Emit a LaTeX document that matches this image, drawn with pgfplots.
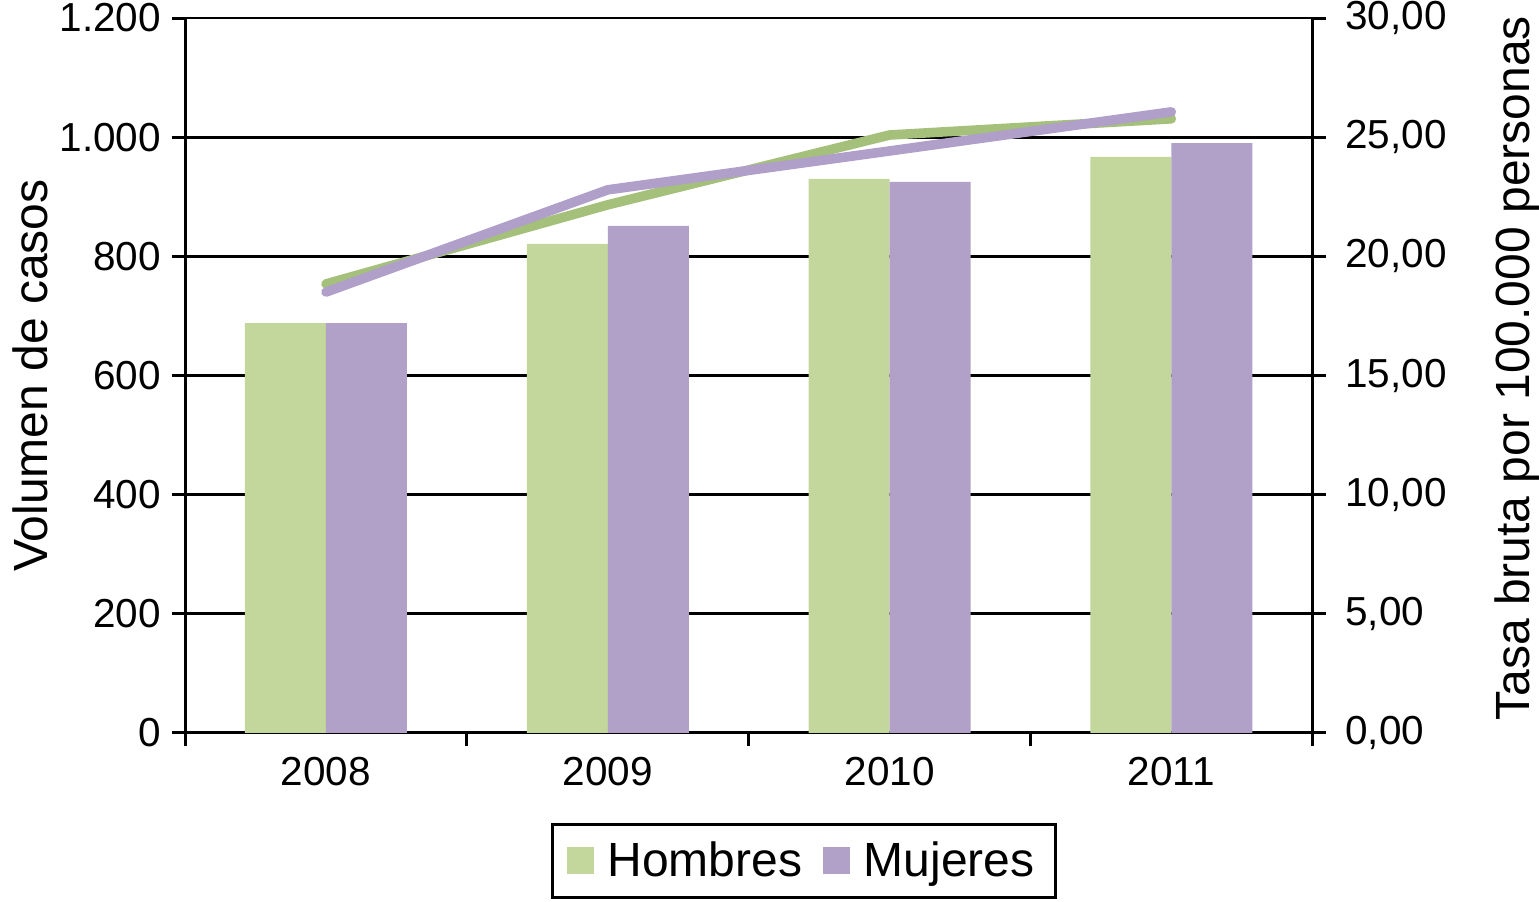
\documentclass[border=0pt]{standalone}
\usepackage{pgfplots}
\pgfplotsset{compat=1.18}
\usepackage{fontspec}
\setmainfont{Liberation Sans}
\definecolor{hgreen}{HTML}{C3D69B}
\definecolor{mpurple}{HTML}{B1A0C7}
\definecolor{hline}{HTML}{A4C07A}
\definecolor{mline}{HTML}{B09FC8}

\begin{document}
\begin{tikzpicture}
\useasboundingbox (-61.7pt,-56.3pt) rectangle (451.3pt,244.3pt);
\begin{axis}[
  at={(0,0)}, anchor=south west,
  scale only axis, width=375.7pt, height=238.3pt,
  xmin=-0.5, xmax=3.5, ymin=0, ymax=1200,
  axis x line*=bottom, axis y line*=left,
  axis line style={line width=1pt, -},
  xtick={-0.5,0.5,1.5,2.5,3.5},
  x tick label as interval,
  xticklabels={2008,2009,2010,2011},
  ytick={0,200,...,1200},
  ymajorgrids, grid style={black, line width=0.9pt},
  tick align=outside, major tick length=4.5pt,
  tick style={black, line width=1pt},
  tick label style={font=\fontsize{13.5}{16}\selectfont},
  /pgf/number format/.cd, 1000 sep={.}, assume math mode=true, /pgfplots/.cd,
  ylabel={Volumen de casos},
  ylabel style={at={(axis description cs:-0.1376,0.5)}, anchor=center, font=\fontsize{16}{19}\selectfont},
  ybar=0pt, bar width=27pt,
  legend columns=2,
  legend style={at={(0.549,-0.179)}, anchor=center, draw=black, line width=1pt,
    font=\fontsize{16}{19}\selectfont, inner xsep=5pt, inner ysep=3.5pt,
    /tikz/every odd column/.append style={column sep=2.5pt},
    /tikz/every even column/.append style={column sep=5pt}},
  legend image code/.code={\fill[#1] (0pt,-4.5pt) rectangle (9pt,4.5pt);},
]
\addplot[fill=hgreen, draw=none] coordinates {(0,688) (1,821) (2,930) (3,967)};
\addlegendentry{Hombres}
\addplot[fill=mpurple, draw=none] coordinates {(0,688) (1,851) (2,925) (3,990)};
\addlegendentry{Mujeres}
\end{axis}
\begin{axis}[
  at={(0,0)}, anchor=south west,
  scale only axis, width=375.7pt, height=238.3pt,
  xmin=-0.5, xmax=3.5, ymin=0, ymax=30,
  axis x line=none, axis y line*=right,
  axis line style={line width=1pt, -},
  ytick={0,5,...,30},
  tick align=outside, major tick length=4.5pt,
  tick style={black, line width=1pt},
  tick label style={font=\fontsize{13.5}{16}\selectfont},
  yticklabel style={xshift=3pt, /pgf/number format/.cd, fixed, fixed zerofill, precision=2, use comma, assume math mode=true},
  ylabel={Tasa bruta por 100.000 personas},
  ylabel style={at={(axis description cs:1.182,0.51)}, anchor=center, rotate=0, font=\fontsize{16}{19}\selectfont},
]
\addplot[hline, line width=3.2pt, line cap=round, line join=round] coordinates {(0,18.84) (1,22.16) (2,25.09) (3,25.77)};
\addplot[mline, line width=3.2pt, line cap=round, line join=round] coordinates {(0,18.5) (1,22.79) (2,24.42) (3,26.06)};
\end{axis}
\end{tikzpicture}
\end{document}
